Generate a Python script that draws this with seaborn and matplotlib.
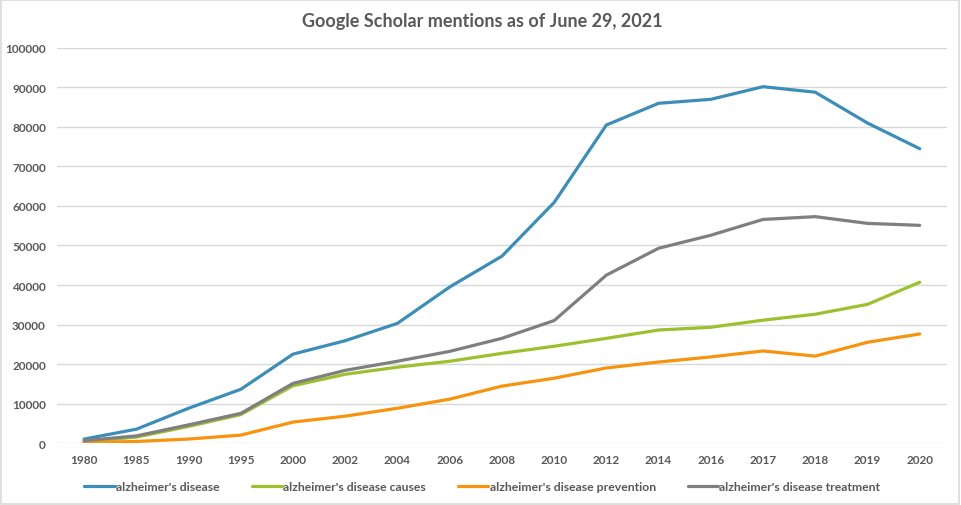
import pandas as pd
import matplotlib.pyplot as plt
import seaborn as sns
from matplotlib.patches import Rectangle

# Chart data
years = ["1980", "1985", "1990", "1995", "2000", "2002", "2004", "2006", "2008",
         "2010", "2012", "2014", "2016", "2017", "2018", "2019", "2020"]
disease = [1000, 3500, 8800, 13600, 22500, 25900, 30300, 39500, 47300,
           60900, 80500, 86000, 87000, 90200, 88800, 81000, 74500]
causes = [300, 1500, 4200, 7200, 14500, 17400, 19200, 20700, 22700,
          24500, 26500, 28600, 29300, 31100, 32600, 35100, 40700]
prevention = [100, 400, 1000, 2000, 5300, 6800, 8800, 11100, 14400,
              16400, 19000, 20500, 21800, 23300, 22000, 25500, 27600]
treatment = [600, 1800, 4600, 7500, 15100, 18400, 20700, 23200, 26500,
             31000, 42500, 49300, 52600, 56600, 57300, 55600, 55100]

series_names = ["alzheimer's disease", "alzheimer's disease causes",
                "alzheimer's disease prevention", "alzheimer's disease treatment"]
series_colors = ["#3C8DB8", "#9DC02E", "#F7930E", "#7F7F7F"]

frames = []
for name, vals in zip(series_names, [disease, causes, prevention, treatment]):
    frames.append(pd.DataFrame({"year": years, "mentions": vals, "series": name}))
df = pd.concat(frames, ignore_index=True)

sns.set_style("white")
plt.rcParams['font.family'] = ['Lato', 'DejaVu Sans']
text_color = "#595959"

fig = plt.figure(figsize=(9.61, 5.06), dpi=100)
ax = fig.add_axes([0.0593, 0.1225, 0.926, 0.7807])

sns.lineplot(data=df, x="year", y="mentions", hue="series", palette=series_colors,
             linewidth=2.3, sort=False, ax=ax, legend=True)

ax.set_ylim(0, 100000)
ax.set_yticks(range(0, 100001, 10000))
ax.set_xlim(-0.52, 16.52)
ax.grid(axis="y", color="#D9D9D9", linewidth=1)
ax.set_axisbelow(True)
for s in ax.spines.values():
    s.set_visible(False)
ax.tick_params(axis="both", length=0, labelsize=8.5, labelcolor=text_color, pad=8)
for lab in ax.get_xticklabels() + ax.get_yticklabels():
    lab.set_fontweight("bold")
ax.set_xlabel("")
ax.set_ylabel("")

handles, labels = ax.get_legend_handles_labels()
ax.legend_.remove()
leg = fig.legend(handles, labels, loc="center", bbox_to_anchor=(0.502, 0.037), ncol=4,
                 frameon=False, handlelength=2.5, handletextpad=0.1, columnspacing=2.6,
                 prop={"size": 8.8, "weight": "bold"})
for t in leg.get_texts():
    t.set_color(text_color)

fig.text(0.502, 0.957, "Google Scholar mentions as of June 29, 2021", ha="center", va="center",
         fontsize=13, fontweight="bold", color=text_color)

# light frame around the chart
fig.patches.append(Rectangle((0.001, 0.001), 0.997, 0.997, transform=fig.transFigure,
                             fill=False, edgecolor="#D9D9D9", linewidth=1.2))

fig.savefig("out.png", dpi=100)
